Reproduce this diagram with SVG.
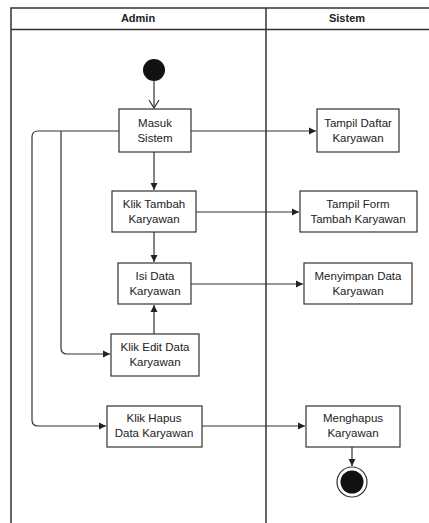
<svg xmlns="http://www.w3.org/2000/svg" width="429" height="523" viewBox="0 0 429 523">
<style>
.lane{fill:none;stroke:#333;stroke-width:1.5}
.box{fill:#fff;stroke:#333;stroke-width:1.2}
.t{font-family:"Liberation Sans",Arial,sans-serif;font-size:11.5px;fill:#222;text-anchor:middle}
.h{font-family:"Liberation Sans",Arial,sans-serif;font-size:11px;font-weight:bold;fill:#222;text-anchor:middle}
.c{fill:none;stroke:#333;stroke-width:1.2}
</style>
<defs>
<marker id="a" markerWidth="8" markerHeight="8" refX="7" refY="4" orient="auto" markerUnits="userSpaceOnUse">
<path d="M0,0.5 L7,4 L0,7.5 Z" fill="#222"/>
</marker>
<marker id="o" markerWidth="12" markerHeight="12" refX="6" refY="11" orient="0" markerUnits="userSpaceOnUse">
<path d="M1,3 L6,11 L11,3" fill="none" stroke="#333" stroke-width="1.2"/>
</marker>
</defs>
<g id="lanes">
<path class="lane" d="M11,523 V8 H430 M11,29.5 H430 M266,8 V523"/>
<text class="h" x="138" y="22">Admin</text>
<text class="h" x="347" y="22">Sistem</text>
</g>
<g id="connectors">
<path class="c" d="M154,81 V108" marker-end="url(#o)"/>
<path class="c" d="M191,131 H316" marker-end="url(#a)"/>
<path class="c" d="M154,152 V190" marker-end="url(#a)"/>
<path class="c" d="M196,212 H299" marker-end="url(#a)"/>
<path class="c" d="M154,232 V262" marker-end="url(#a)"/>
<path class="c" d="M191,284 H303" marker-end="url(#a)"/>
<path class="c" d="M154,334 V305" marker-end="url(#a)"/>
<path class="c" d="M119,131 H38 Q32,131 32,137 V420 Q32,426 38,426 H106" marker-end="url(#a)"/>
<path class="c" d="M61,131 V348 Q61,354 67,354 H110" marker-end="url(#a)"/>
<path class="c" d="M202,426 H305" marker-end="url(#a)"/>
<path class="c" d="M352,447 V466" marker-end="url(#a)"/>
</g>
<g id="start"><circle cx="154" cy="70" r="11" fill="#111"/></g>
<g id="masuk"><rect class="box" x="119" y="109" width="72" height="43"/><text class="t" x="155" y="127">Masuk</text><text class="t" x="155" y="142">Sistem</text></g>
<g id="tampil-daftar"><rect class="box" x="317" y="109" width="82" height="43"/><text class="t" x="358" y="127">Tampil Daftar</text><text class="t" x="358" y="142">Karyawan</text></g>
<g id="klik-tambah"><rect class="box" x="112" y="191" width="84" height="41"/><text class="t" x="154" y="208">Klik Tambah</text><text class="t" x="154" y="223">Karyawan</text></g>
<g id="tampil-form"><rect class="box" x="300" y="191" width="117" height="41"/><text class="t" x="358" y="208">Tampil Form</text><text class="t" x="358" y="223">Tambah Karyawan</text></g>
<g id="isi-data"><rect class="box" x="118" y="263" width="73" height="41"/><text class="t" x="155" y="280">Isi Data</text><text class="t" x="155" y="295">Karyawan</text></g>
<g id="menyimpan"><rect class="box" x="304" y="263" width="108" height="41"/><text class="t" x="358" y="280">Menyimpan Data</text><text class="t" x="358" y="295">Karyawan</text></g>
<g id="klik-edit"><rect class="box" x="111" y="334" width="88" height="42"/><text class="t" x="155" y="351">Klik Edit Data</text><text class="t" x="155" y="366">Karyawan</text></g>
<g id="klik-hapus"><rect class="box" x="107" y="406" width="95" height="41"/><text class="t" x="154" y="422">Klik Hapus</text><text class="t" x="154" y="437">Data Karyawan</text></g>
<g id="menghapus"><rect class="box" x="306" y="406" width="94" height="41"/><text class="t" x="353" y="422">Menghapus</text><text class="t" x="353" y="437">Karyawan</text></g>
<g id="end"><circle cx="352" cy="482" r="15" fill="#fff" stroke="#333" stroke-width="1.2"/><circle cx="352" cy="482" r="11.5" fill="#111"/></g>
</svg>
